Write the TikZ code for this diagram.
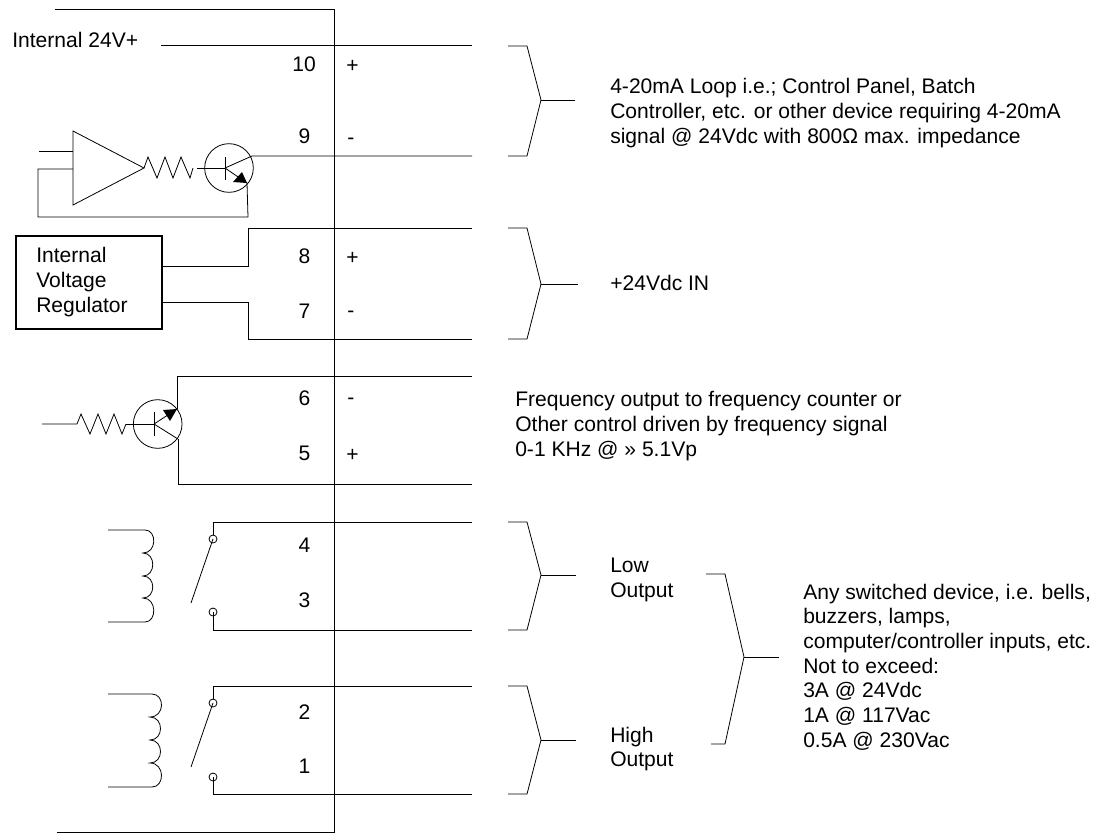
\documentclass[tikz,border=0pt]{standalone}
\usepackage{fontspec}
\setmainfont{Liberation Sans}
\tikzset{
  wire/.style={line width=0.6pt, line join=miter},
  lbl/.style={anchor=west, inner sep=0pt, align=left, font=\fontsize{15.8}{18.5}\selectfont},
  pin/.style={anchor=center, inner sep=0pt, font=\fontsize{15.8}{18.5}\selectfont},
  qcircle/.style={circle, draw, line width=0.6pt, inner sep=0pt, minimum size=36.5pt},
  contact/.style={circle, draw, line width=0.6pt, inner sep=0pt, minimum size=6pt},
}
\begin{document}
\begin{tikzpicture}[x=0.75pt, y=-0.75pt]
\useasboundingbox (0,0) rectangle (1109,833);
% housing
\coordinate (boxtl) at (55,9.5);
\coordinate (boxtr) at (334.5,9.5);
\coordinate (boxbr) at (334.5,832);
\coordinate (boxbl) at (57,832);
\draw[wire](boxtl) -- (boxtr) -- (boxbr) -- (boxbl);
% pin numbers
\node[pin] (pin10) at (304,64){10};
\node[pin] (pin9) at (304.5,136){9};
\node[pin] (pin8) at (304.5,256){8};
\node[pin] (pin7) at (304.5,311){7};
\node[pin] (pin6) at (304.5,398){6};
\node[pin] (pin5) at (304.5,453){5};
\node[pin] (pin4) at (304.5,545){4};
\node[pin] (pin3) at (304.5,600){3};
\node[pin] (pin2) at (304.5,712){2};
\node[pin] (pin1) at (304.5,766){1};
\node[pin] (sgn10) at (352.5,66){+};
\node[pin] (sgn9) at (351,141){-};
\node[pin] (sgn8) at (352.5,258){+};
\node[pin] (sgn7) at (351,314){-};
\node[pin] (sgn6) at (351,401){-};
\node[pin] (sgn5) at (352.5,455){+};
% wire ends at the right
\coordinate (end10) at (472,45.5);
\coordinate (end9) at (472,156);
\coordinate (end8) at (472,228);
\coordinate (end7) at (472,339);
\coordinate (end6) at (472,376);
\coordinate (end5) at (472,484);
\coordinate (end4) at (472,522);
\coordinate (end3) at (472,630);
\coordinate (end2) at (472,686);
\coordinate (end1) at (472,794);
% internal supply
\node[lbl] (supply) at (12,40){Internal 24V+};
\coordinate (supplyend) at (161,45.5);
\draw[wire](supplyend) -- (end10);
% amplifier and loop transistor
\coordinate (amptop) at (73,131);
\coordinate (ampbot) at (73,205);
\coordinate (amptip) at (144,168);
\draw[wire](amptop) -- (amptip) -- (ampbot) -- cycle;
\coordinate (ampin) at (39,151);
\coordinate (ampinb) at (73,151);
\draw[wire](ampin) -- (ampinb);
\node[qcircle] (qa) at (229,168){};
\coordinate (qab) at (225,168);
\coordinate (qac) at (252,156);
\coordinate (qae) at (247,183);
\coordinate (fba) at (73,169);
\coordinate (fbb) at (38,169);
\coordinate (fbc) at (38,217);
\coordinate (fbd) at (248,217);
\draw[wire](fba) -- (fbb) -- (fbc) -- (fbd) -- (qae);
\draw[wire](amptip) -- (148,157) -- (157,178) -- (165,157) -- (173,178) -- (181,157) -- (190,178) -- (193,168);
\draw[wire](197,168) -- (qab);
\draw[wire](225,157) -- (225,180);
\draw[wire](qab) -- (qac) -- (end9);
\draw[wire](qab) -- (qae);
\fill (247,183) -- (233,182) -- (242,172) -- cycle;
% regulator
\node[draw, line width=1.3pt, minimum width=109.5pt, minimum height=69.75pt, inner sep=0pt] (reg) at (89,282.5){};
\node[lbl] (regtxt) at (36,282){Internal\\Voltage\\Regulator};
\coordinate (rega) at (162,266);
\coordinate (regb) at (248,266);
\coordinate (regc) at (248,228);
\coordinate (regd) at (162,302);
\coordinate (rege) at (248,302);
\coordinate (regf) at (248,339);
\draw[wire](rega) -- (regb) -- (regc) -- (end8);
\draw[wire](regd) -- (rege) -- (regf) -- (end7);
% frequency transistor
\coordinate (qbin) at (42,424);
\coordinate (qbr) at (77,424);
\draw[wire](qbin) -- (qbr) -- (81,414) -- (90,434) -- (98,414) -- (106,434) -- (114,414) -- (122,434) -- (126,424);
\node[qcircle] (qb) at (157.7,424){};
\coordinate (qbb) at (154,424);
\coordinate (qbe) at (177,409);
\coordinate (qbc) at (178,439);
\coordinate (qbt) at (177,376);
\coordinate (qbd) at (178,484);
\draw[wire](126,424) -- (qbb);
\draw[wire](154,412) -- (154,436);
\draw[wire](qbb) -- (qbe);
\draw[wire](qbb) -- (qbc);
\fill (177,409) -- (163,410) -- (170,421) -- cycle;
\draw[wire](qbe) -- (qbt) -- (end6);
\draw[wire](qbc) -- (qbd) -- (end5);
% low relay
\draw[wire](108,530) -- (145,530) .. controls (157,530) and (157,553) .. (143,553)
  .. controls (156,553) and (156,576) .. (143,576)
  .. controls (156,576) and (156,598) .. (143,598)
  .. controls (157,598) and (157,622) .. (145,622) -- (108,622);
\node[contact] (swa) at (213,539){};
\node[contact] (swb) at (213,612){};
\coordinate (swat) at (213,522);
\coordinate (swbt) at (213,630);
\coordinate (bladea) at (191,603);
\draw[wire](swa) -- (swat) -- (end4);
\draw[wire](swb.center) -- (swbt) -- (end3);
\draw[wire](bladea) -- (swa.center);
% high relay
\draw[wire](108,694) -- (152,694) .. controls (165,694) and (165,717) .. (150,717)
  .. controls (164,717) and (164,740) .. (150,740)
  .. controls (164,740) and (164,763) .. (150,763)
  .. controls (165,763) and (165,787) .. (152,787) -- (108,787);
\node[contact] (swc) at (213,703){};
\node[contact] (swd) at (213,777){};
\coordinate (swct) at (213,686);
\coordinate (swdt) at (213,794);
\coordinate (bladeb) at (191,767);
\draw[wire](swc) -- (swct) -- (end2);
\draw[wire](swd.center) -- (swdt) -- (end1);
\draw[wire](bladeb) -- (swc.center);
% brackets
\draw[wire](508,46) -- (527,46) -- (541,100) -- (527,156) -- (508,156);
\draw[wire](541,100) -- (575,100);
\draw[wire](508,228) -- (527,228) -- (541,284) -- (527,339) -- (508,339);
\draw[wire](541,284) -- (578,284);
\draw[wire](508,522) -- (527,522) -- (541,575) -- (527,630) -- (508,630);
\draw[wire](541,575) -- (576,575);
\draw[wire](508,686) -- (527,686) -- (541,740) -- (527,794) -- (508,794);
\draw[wire](541,740) -- (576,740);
\draw[wire](706,574) -- (725,574) -- (744,657) -- (725,744) -- (711,744);
\draw[wire](744,657) -- (779,657);
% texts
\node[lbl] (looptxt) at (610,113){4-20mA Loop i.e.; Control Panel, Batch\\Controller, etc. or other device requiring 4-20mA\\signal @ 24Vdc with 800Ω max. impedance};
\node[lbl] (intxt) at (610,283){+24Vdc IN};
\node[lbl] (freqtxt) at (515,426){Frequency output to frequency counter or\\Other control driven by frequency signal\\0-1 KHz @ » 5.1Vp};
\node[lbl] (lowtxt) at (610,580){Low\\Output};
\node[lbl] (hightxt) at (610,749){High\\Output};
\node[lbl] (anytxt) at (803,667){Any switched device, i.e. bells,\\buzzers, lamps,\\computer/controller inputs, etc.\\Not to exceed:\\3A @ 24Vdc\\1A @ 117Vac\\0.5A @ 230Vac};
\end{tikzpicture}
\end{document}
